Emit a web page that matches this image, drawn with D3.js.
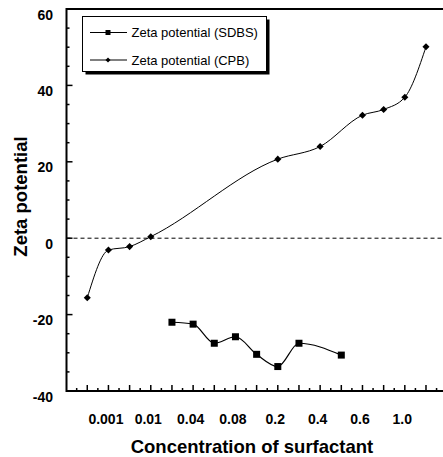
<!DOCTYPE html>
<html>
<head>
<meta charset="utf-8">
<script src="https://d3js.org/d3.v7.min.js"></script>
<style>
  body { margin: 0; background: #fff; }
  svg { display: block; font-family: "Liberation Sans", Arial, sans-serif; }
</style>
</head>
<body>
<svg id="chart" width="443" height="457"></svg>
<script>
// x is a slot index along the axis (ticks every slot, labels every 2nd)
const tickLabels = ["0.001", "0.01", "0.04", "0.08", "0.2", "0.4", "0.6", "1.0"];
const labelSlots = [2, 4, 6, 8, 10, 12, 14, 16];

const sdbsSlots = [5, 6, 7, 8, 9, 10, 11, 13];
const sdbsZeta = [-22.0, -22.5, -27.5, -25.8, -30.4, -33.6, -27.5, -30.6];

const cpbSlots = [1, 2, 3, 4, 10, 12, 14, 15, 16, 17];
const cpbZeta = [-15.6, -3.1, -2.2, 0.4, 20.7, 24.0, 32.2, 33.7, 36.9, 50.1];

const yMajor = [-40, -20, 0, 20, 40, 60];

const svg = d3.select("#chart");
const plotLeft = 66.5, plotBottom = 391, plotTop = 9;

const x = d3.scaleLinear().domain([0, 18]).range([66.1, 66.1 + 18 * 21.17]);
const y = d3.scaleLinear().domain([-40, 60]).range([plotBottom, plotTop]);

// zero reference line
svg.append("line")
  .attr("x1", plotLeft).attr("x2", 443)
  .attr("y1", y(0)).attr("y2", y(0))
  .attr("stroke", "#000").attr("stroke-width", 1)
  .attr("stroke-dasharray", "4,3");

// y ticks (inward)
const yMinor = d3.range(-40, 61, 5).filter(v => !yMajor.includes(v));
svg.selectAll(".ymaj").data(yMajor).enter().append("line")
  .attr("x1", plotLeft).attr("x2", plotLeft + 6)
  .attr("y1", d => y(d)).attr("y2", d => y(d))
  .attr("stroke", "#000").attr("stroke-width", 1.5);
svg.selectAll(".ymin").data(yMinor).enter().append("line")
  .attr("x1", plotLeft).attr("x2", plotLeft + 3)
  .attr("y1", d => y(d)).attr("y2", d => y(d))
  .attr("stroke", "#000").attr("stroke-width", 1.5);
svg.selectAll(".ylab").data(yMajor).enter().append("text")
  .attr("x", 53).attr("y", d => y(d) + 10.5)
  .attr("text-anchor", "end")
  .attr("font-size", 14).attr("font-weight", "bold")
  .text(d => d);

// x ticks (inward)
const xMajor = d3.range(1, 18);
const xMinor = d3.range(0.5, 18, 1);
svg.selectAll(".xmaj").data(xMajor).enter().append("line")
  .attr("x1", d => x(d)).attr("x2", d => x(d))
  .attr("y1", plotBottom).attr("y2", plotBottom - 6)
  .attr("stroke", "#000").attr("stroke-width", 1.5);
svg.selectAll(".xmin").data(xMinor).enter().append("line")
  .attr("x1", d => x(d)).attr("x2", d => x(d))
  .attr("y1", plotBottom).attr("y2", plotBottom - 3)
  .attr("stroke", "#000").attr("stroke-width", 1.5);
svg.selectAll(".xlab").data(tickLabels).enter().append("text")
  .attr("x", (d, i) => x(labelSlots[i]) - 2.5).attr("y", 423.5)
  .attr("text-anchor", "middle")
  .attr("font-size", 14).attr("font-weight", "bold")
  .text(d => d);

// axes frame: left, bottom, top
svg.append("path")
  .attr("d", `M443,${plotTop}H${plotLeft}V${plotBottom}H443`)
  .attr("fill", "none").attr("stroke", "#000").attr("stroke-width", 2);

// titles
svg.append("text")
  .attr("x", 252).attr("y", 453)
  .attr("text-anchor", "middle")
  .attr("font-size", 18.5).attr("font-weight", "bold")
  .text("Concentration of surfactant");
svg.append("text")
  .attr("transform", "translate(26.5,196.5) rotate(-90)")
  .attr("text-anchor", "middle")
  .attr("font-size", 18.5).attr("font-weight", "bold")
  .text("Zeta potential");

// series
const line = d3.line()
  .x(d => x(d[0])).y(d => y(d[1]))
  .curve(d3.curveMonotoneX);

const sdbs = d3.zip(sdbsSlots, sdbsZeta);
const cpb = d3.zip(cpbSlots, cpbZeta);

svg.append("path").datum(sdbs).attr("d", line)
  .attr("fill", "none").attr("stroke", "#000").attr("stroke-width", 1.2);
svg.append("path").datum(cpb).attr("d", line)
  .attr("fill", "none").attr("stroke", "#000").attr("stroke-width", 1);

svg.selectAll(".sq").data(sdbs).enter().append("rect")
  .attr("x", d => x(d[0]) - 3.5).attr("y", d => y(d[1]) - 3.5)
  .attr("width", 7).attr("height", 7).attr("fill", "#000");
svg.selectAll(".dm").data(cpb).enter().append("rect")
  .attr("x", -2.5).attr("y", -2.5).attr("width", 5).attr("height", 5)
  .attr("transform", d => `translate(${x(d[0])},${y(d[1])}) rotate(45)`)
  .attr("fill", "#000");

// legend
const lg = svg.append("g");
lg.append("rect").attr("x", 85.5).attr("y", 19.5).attr("width", 184).attr("height", 55)
  .attr("fill", "#000");
lg.append("rect").attr("x", 82.5).attr("y", 16.5).attr("width", 184).attr("height", 55)
  .attr("fill", "#fff").attr("stroke", "#000").attr("stroke-width", 1);

const legendItems = ["Zeta potential (SDBS)", "Zeta potential (CPB)"];
const legendRowY = [32.5, 60];
legendItems.forEach((name, i) => {
  const ry = legendRowY[i];
  lg.append("line").attr("x1", 90).attr("x2", 127).attr("y1", ry).attr("y2", ry)
    .attr("stroke", "#000").attr("stroke-width", 1);
  if (i === 0) {
    lg.append("rect").attr("x", 105.5).attr("y", ry - 2.5).attr("width", 5).attr("height", 5)
      .attr("fill", "#000");
  } else {
    lg.append("rect").attr("x", -1.8).attr("y", -1.8).attr("width", 3.6).attr("height", 3.6)
      .attr("transform", `translate(108,${ry}) rotate(45)`).attr("fill", "#000");
  }
  lg.append("text").attr("x", 131.5).attr("y", ry + 4.5)
    .attr("font-size", 13).text(name);
});
</script>
</body>
</html>
